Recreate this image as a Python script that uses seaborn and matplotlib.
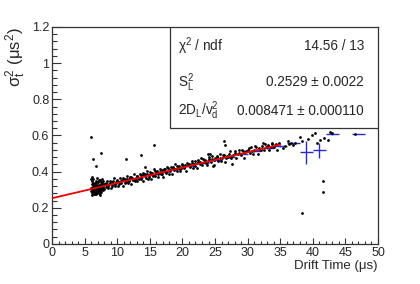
import numpy as np
import matplotlib
matplotlib.use("Agg")
import matplotlib.pyplot as plt
import seaborn as sns
from matplotlib.patches import Rectangle
from matplotlib.ticker import MultipleLocator, FormatStrFormatter

sns.set_style("ticks")
plt.rcParams["font.family"] = ["Liberation Sans", "DejaVu Sans"]
plt.rcParams["mathtext.fontset"] = "custom"
plt.rcParams["mathtext.rm"] = "Liberation Sans"
plt.rcParams["mathtext.it"] = "Liberation Sans"

# --- donnees ---
# amas dense a petit temps de derive
cluster_t = [5.90, 5.95, 6.05, 6.10, 6.12, 6.18, 6.22, 6.25, 6.30, 6.33, 6.37, 6.41,
             6.45, 6.48, 6.52, 6.55, 6.58, 6.62, 6.66, 6.70, 6.73, 6.77, 6.80, 6.84,
             6.88, 6.91, 6.95, 6.98, 7.02, 7.05, 7.09, 7.12, 7.16, 7.20, 7.23, 7.27,
             7.30, 7.34, 7.38, 7.42, 7.46, 7.50, 7.54, 7.58, 7.62, 7.66, 7.70, 7.74,
             7.78, 7.83, 7.88, 7.93, 7.97, 6.00, 6.15, 6.35, 6.60, 6.90, 7.15, 7.40,
             7.65, 6.45, 6.75, 7.05, 7.35, 6.20, 6.95, 7.55]
cluster_s = [0.312, 0.291, 0.331, 0.302, 0.283, 0.349, 0.318, 0.292, 0.309, 0.338,
             0.281, 0.301, 0.322, 0.274, 0.329, 0.297, 0.288, 0.311, 0.337, 0.279,
             0.321, 0.299, 0.347, 0.287, 0.308, 0.326, 0.282, 0.304, 0.319, 0.291,
             0.341, 0.313, 0.284, 0.328, 0.302, 0.317, 0.293, 0.352, 0.309, 0.281,
             0.331, 0.298, 0.322, 0.289, 0.339, 0.311, 0.327, 0.301, 0.318, 0.346,
             0.307, 0.329, 0.303, 0.361, 0.272, 0.358, 0.276, 0.366, 0.354, 0.271,
             0.357, 0.314, 0.306, 0.316, 0.304, 0.305, 0.344, 0.343]

# bande le long de la droite
band_t = [8.15, 8.32, 8.47, 8.60, 8.78, 8.91, 9.05, 9.20, 9.33, 9.50, 9.62, 9.80,
          9.93, 10.10, 10.22, 10.40, 10.55, 10.70, 10.85, 11.00, 11.15, 11.30, 11.48,
          11.60, 11.77, 11.90, 12.08, 12.20, 12.37, 12.50, 12.66, 12.80, 12.97, 13.10,
          13.25, 13.42, 13.58, 13.70, 13.88, 14.02, 14.18, 14.35, 14.50, 14.66, 14.80,
          14.97, 15.12, 15.30, 15.45, 15.60, 15.78, 15.92, 16.10, 16.25, 16.40, 16.58,
          16.72, 16.90, 17.05, 17.20, 17.38, 17.55, 17.70, 17.88, 18.05, 18.20, 18.40,
          18.57, 18.75, 18.90, 19.10, 19.28, 19.45, 19.62, 19.80, 20.00, 20.20, 20.40,
          20.60, 20.80, 21.00, 21.22, 21.40, 21.60, 21.80, 22.00, 22.25, 22.45, 22.65,
          22.85, 23.05, 23.30, 23.50, 23.70, 23.95, 24.15, 24.35, 24.60, 24.80, 25.00,
          25.25, 25.45, 25.70, 25.90, 26.10, 26.35, 26.60, 26.80, 27.05, 27.30, 27.50,
          27.75, 28.00, 28.25, 28.50, 28.75, 29.00, 29.25, 29.50, 29.75, 30.00, 30.30,
          30.55, 30.80, 31.05, 31.30, 31.55, 31.80, 32.05, 32.30, 32.55, 32.80, 33.05,
          33.30, 33.55, 33.80, 34.05, 34.30, 34.55, 34.80]
band_s = [0.334, 0.315, 0.350, 0.311, 0.331, 0.346, 0.308, 0.340, 0.329, 0.363,
          0.322, 0.342, 0.352, 0.320, 0.341, 0.363, 0.336, 0.355, 0.320, 0.354,
          0.359, 0.341, 0.375, 0.336, 0.357, 0.372, 0.333, 0.365, 0.355, 0.389,
          0.348, 0.367, 0.378, 0.346, 0.366, 0.389, 0.362, 0.380, 0.346, 0.380,
          0.385, 0.366, 0.401, 0.362, 0.382, 0.398, 0.359, 0.392, 0.381, 0.415,
          0.375, 0.394, 0.404, 0.373, 0.393, 0.415, 0.389, 0.407, 0.372, 0.407,
          0.412, 0.394, 0.428, 0.389, 0.410, 0.425, 0.387, 0.419, 0.409, 0.443,
          0.403, 0.422, 0.433, 0.401, 0.422, 0.444, 0.418, 0.437, 0.402, 0.437,
          0.443, 0.425, 0.459, 0.421, 0.442, 0.457, 0.419, 0.452, 0.442, 0.477,
          0.436, 0.456, 0.467, 0.436, 0.457, 0.480, 0.453, 0.472, 0.438, 0.473,
          0.479, 0.461, 0.496, 0.457, 0.478, 0.494, 0.456, 0.489, 0.479, 0.514,
          0.474, 0.494, 0.505, 0.474, 0.495, 0.518, 0.493, 0.512, 0.478, 0.513,
          0.519, 0.502, 0.537, 0.499, 0.520, 0.536, 0.498, 0.531, 0.521, 0.557,
          0.517, 0.537, 0.548, 0.517, 0.538, 0.561, 0.535, 0.555, 0.521, 0.556]
band2_t = [8.25, 8.55, 8.85, 9.15, 9.42, 9.72, 10.02, 10.32, 10.62, 10.95, 11.22,
           11.55, 11.85, 12.15, 12.45, 12.75, 13.05, 13.35, 13.65, 13.95, 14.25,
           14.58, 14.90, 15.20, 15.52, 15.85, 16.18, 16.50, 16.82, 17.12, 17.45,
           17.80, 18.12, 18.48, 18.82, 19.20, 19.55, 19.90, 20.30, 20.70, 21.10,
           21.50, 21.90, 22.35, 22.75, 23.20, 23.60, 24.05, 24.50, 24.90, 25.35,
           25.80, 26.20, 26.70, 27.20, 27.65, 28.10, 28.60, 29.10, 29.60, 30.15,
           30.65, 31.20, 31.70, 32.20, 32.70, 33.20, 33.70, 34.20]
band2_s = [0.338, 0.322, 0.336, 0.318, 0.347, 0.331, 0.349, 0.333, 0.347, 0.366,
           0.339, 0.362, 0.348, 0.371, 0.352, 0.356, 0.374, 0.357, 0.371, 0.392,
           0.374, 0.389, 0.371, 0.395, 0.378, 0.402, 0.385, 0.400, 0.386, 0.414,
           0.399, 0.418, 0.401, 0.424, 0.415, 0.430, 0.412, 0.434, 0.428, 0.448,
           0.434, 0.447, 0.430, 0.464, 0.452, 0.468, 0.448, 0.468, 0.485, 0.462,
           0.487, 0.478, 0.491, 0.475, 0.497, 0.486, 0.512, 0.504, 0.517, 0.508,
           0.528, 0.516, 0.541, 0.527, 0.541, 0.551, 0.543, 0.551, 0.547]

# fin de la plage et points isoles
tail_t = [35.5, 35.7, 36.2, 36.4, 36.6, 37.0, 37.3, 38.0, 38.4, 39.3, 39.8, 40.3,
          40.7, 41.1, 41.7, 42.4, 42.6, 42.9, 46.4]
tail_s = [0.529, 0.542, 0.570, 0.553, 0.560, 0.546, 0.557, 0.593, 0.570, 0.582,
          0.603, 0.612, 0.557, 0.575, 0.585, 0.575, 0.620, 0.612, 0.608]
outlier_t = [6.0, 6.3, 6.7, 7.5, 6.1, 11.3, 13.6, 15.7, 14.3, 23.9, 24.3, 26.4,
             26.5, 24.7, 27.6, 38.3, 41.6, 41.6]
outlier_s = [0.593, 0.470, 0.430, 0.505, 0.370, 0.470, 0.490, 0.545, 0.426, 0.500,
             0.500, 0.571, 0.549, 0.430, 0.440, 0.170, 0.350, 0.290]

# profil (bins de 2 us)
prof_t = [7, 9, 11, 13, 15, 17, 19, 21, 23, 25, 27, 29, 31, 33, 35, 37, 39, 41, 43, 47]
prof_s = [0.313, 0.330, 0.347, 0.364, 0.381, 0.398, 0.414, 0.431, 0.448, 0.465,
          0.482, 0.499, 0.516, 0.533, 0.540, 0.557, 0.507, 0.518, 0.607, 0.607]
prof_err = [0.003, 0.004, 0.005, 0.005, 0.006, 0.005, 0.005, 0.005, 0.006, 0.006,
            0.006, 0.006, 0.006, 0.006, 0.005, 0.004, 0.063, 0.040, 0.005, 0.0]

# ajustement lineaire
fit_p0 = 0.2529
fit_p1 = 0.008471
fit_range = [0.0, 35.0]

drift_t = cluster_t + band_t + band2_t + tail_t + outlier_t
sigma2 = cluster_s + band_s + band2_s + tail_s + outlier_s

fig = plt.figure(figsize=(4.2, 2.84), dpi=100)
ax = fig.add_axes([0.124, 0.141, 0.776, 0.764])

sns.scatterplot(x=drift_t, y=sigma2, color="black", s=4, marker="o",
                linewidth=0, ax=ax, zorder=3)
ax.errorbar(prof_t, prof_s, xerr=1.0, yerr=prof_err, fmt="none",
            ecolor="#2a2ad0", elinewidth=1.0, capsize=0, zorder=2)
fit_y = [fit_p0 + fit_p1 * t for t in fit_range]
sns.lineplot(x=fit_range, y=fit_y, color="#ee0000", linewidth=1.3, ax=ax, zorder=4)

ax.set_xlim(0, 50)
ax.set_ylim(0, 1.2)
ax.xaxis.set_major_locator(MultipleLocator(5))
ax.xaxis.set_minor_locator(MultipleLocator(1))
ax.yaxis.set_major_locator(MultipleLocator(0.2))
ax.yaxis.set_minor_locator(MultipleLocator(0.04))
ax.yaxis.set_major_formatter(FormatStrFormatter("%g"))
ax.tick_params(axis="both", which="both", direction="in", labelsize=9,
               color="#333333", width=0.8)
ax.tick_params(axis="x", which="major", length=4.5, pad=2)
ax.tick_params(axis="x", which="minor", length=2.3)
ax.tick_params(axis="y", which="major", length=6.5, pad=2)
ax.tick_params(axis="y", which="minor", length=3.3)
for sp in ax.spines.values():
    sp.set_visible(True)
    sp.set_linewidth(0.9)
    sp.set_color("#333333")

ax.set_xlabel("Drift Time (μs)", fontsize=9.5, loc="right", labelpad=1)
ax.set_ylabel(r"$\sigma_{t}^{2}$ (μs$^{2}$)", fontsize=12, loc="top", labelpad=3)

# boite de statistiques
x0, y0 = (170 - 52) / 326, (244 - 128) / 217
ax.add_patch(Rectangle((x0, y0), 1 - x0, 1 - y0, transform=ax.transAxes,
                       facecolor="white", edgecolor="#333333", linewidth=0.9, zorder=5))
rows = [("χ$^{2}$ / ndf", "14.56 / 13"),
        (r"S$_{L}^{2}$", "0.2529 ± 0.0022"),
        (r"2D$_{L}$/v$_{d}^{2}$", "0.008471 ± 0.000110")]
row_y = [0.912, 0.745, 0.613]
for (left, right), ry in zip(rows, row_y):
    ax.text(x0 + 0.025, ry, left, transform=ax.transAxes, fontsize=9.8,
            va="center", ha="left", zorder=6)
    ax.text(0.957, ry, right, transform=ax.transAxes, fontsize=9.8,
            va="center", ha="right", zorder=6)

plt.savefig("out.png", dpi=100)
plt.close()
